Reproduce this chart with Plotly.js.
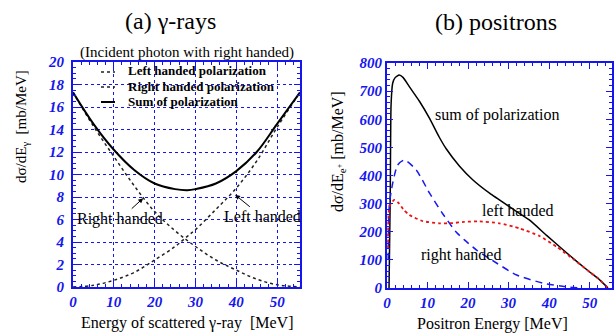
<!DOCTYPE html>
<html><head><meta charset="utf-8">
<script src="https://cdn.plot.ly/plotly-3.0.1.min.js"></script>
<style>html,body{margin:0;padding:0;background:#fff}</style>
</head><body><div id="chart" style="width:615px;height:335px"></div>
<script>
// (a) gamma-rays
const gammaE = [0, 5, 10, 15, 20, 25, 28, 30, 35, 40, 45, 50, 55.6];
const gammaLeft = [0, 0.15, 0.6, 1.3, 2.4, 3.6, 4.5, 5.1, 6.9, 8.8, 11.2, 14.2, 17.3];
const gammaRightE = [0, 5, 10, 15, 20, 25, 30, 35, 40, 45, 50, 55.6];
const gammaRight = [17.3, 14.3, 11.6, 9.0, 6.7, 5.0, 3.6, 2.4, 1.5, 0.7, 0.2, 0];
const gammaSumE = [0, 5, 10, 15, 20, 25, 28, 30, 35, 40, 45, 50, 55.6];
const gammaSum = [17.3, 14.5, 12.2, 10.4, 9.2, 8.7, 8.6, 8.7, 9.2, 10.3, 12.0, 14.5, 17.3];
const legendNames = ["Left handed polarization", "Right handed polarization", "Sum of polarization"];

// (b) positrons
const posSumE = [0.5, 0.8, 1.0, 1.4, 2.0, 3.0, 4.0, 5.5, 8, 10.5, 12.9, 14.6, 17.9, 21.2, 25.3, 30.2, 35.1, 39.3, 43.5, 47, 50, 52, 54.5];
const posSum = [0, 330, 650, 728, 748, 757, 748, 716, 664, 603, 536, 495, 433, 384, 337, 289, 242, 188, 135, 92, 57, 35, 0];
const posRightE = [0.3, 0.6, 1.4, 2.6, 4.3, 7.2, 10.5, 13.7, 17, 19.1, 22.1, 27.1, 32, 38.6, 45, 48];
const posRight = [100, 300, 372, 437, 455, 420, 337, 265, 200, 171, 135, 88, 46, 17, 3, 0];
const posLeftE = [0.3, 0.6, 1.8, 3, 4, 5.5, 8.8, 12.9, 16.2, 19, 22.8, 27.7, 32.7, 37.6, 42, 46, 50, 52, 54.5];
const posLeft = [140, 289, 313, 300, 280, 260, 238, 230, 231, 235, 237, 230, 212, 185, 145, 102, 57, 35, 0];

const serif = "Liberation Serif";
const blue = "#1515ee";
const tickFont = {family: serif, size: 15, color: blue, weight: "bold", style: "italic"};

const gammaStyles = [
  {color: "#222", width: 1.5, dash: "dot"},
  {color: "#222", width: 1.5, dash: "3px,3px"},
  {color: "#000", width: 2, dash: "solid"}
];

const traces = [
  {x: gammaE, y: gammaLeft, name: legendNames[0], mode: "lines", line: Object.assign({shape: "spline"}, gammaStyles[0]), xaxis: "x", yaxis: "y"},
  {x: gammaRightE, y: gammaRight, name: legendNames[1], mode: "lines", line: Object.assign({shape: "spline"}, gammaStyles[1]), xaxis: "x", yaxis: "y"},
  {x: gammaSumE, y: gammaSum, name: legendNames[2], mode: "lines", line: Object.assign({shape: "spline"}, gammaStyles[2]), xaxis: "x", yaxis: "y"},
  {x: posSumE, y: posSum, mode: "lines", line: {color: "#000", width: 1.5, shape: "spline", smoothing: 0.5}, xaxis: "x2", yaxis: "y2"},
  {x: posRightE, y: posRight, mode: "lines", line: {color: "#1a1aee", width: 1.5, dash: "7px,5px", shape: "spline", smoothing: 0.6}, xaxis: "x2", yaxis: "y2"},
  {x: posLeftE, y: posLeft, mode: "lines", line: {color: "#ee1111", width: 1.8, dash: "dot", shape: "spline", smoothing: 0.6}, xaxis: "x2", yaxis: "y2"}
];

const axBase = {
  showline: true, linecolor: blue, linewidth: 2, mirror: "allticks",
  ticks: "inside", tickcolor: blue, ticklen: 6, tickwidth: 1,
  tickfont: tickFont, zeroline: false
};

// manual legend (row spacing of the original is tighter than Plotly's legend allows)
const legendRowsY = [72, 87, 102];
const legendShapes = legendNames.map((n, i) => ({
  type: "line", xref: "paper", yref: "paper",
  x0: 101/615, x1: 115/615, y0: 1 - legendRowsY[i]/335, y1: 1 - legendRowsY[i]/335,
  line: {color: gammaStyles[i].color, width: gammaStyles[i].width, dash: gammaStyles[i].dash}
}));
const legendTexts = legendNames.map((n, i) => ({
  text: n, xref: "paper", yref: "paper", x: 126/615, y: 1 - (legendRowsY[i] - 1)/335,
  xanchor: "left", yanchor: "middle", showarrow: false,
  font: {family: serif, size: 13, color: "#000", weight: "bold"}
}));

function paperText(text, px, py, size, extra) {
  return Object.assign({text: text, xref: "paper", yref: "paper", x: px/615, y: 1 - py/335,
    xanchor: "center", yanchor: "middle", showarrow: false,
    font: {family: serif, size: size, color: "#000"}}, extra || {});
}

const layout = {
  width: 615, height: 335,
  margin: {l: 0, r: 0, t: 0, b: 0},
  paper_bgcolor: "#fff", plot_bgcolor: "#fff",
  showlegend: false,
  xaxis: Object.assign({}, axBase, {domain: [73/615, 300/615], range: [0, 55.6], dtick: 10, tick0: 0,
    showgrid: true, gridcolor: blue, griddash: "dot", gridwidth: 1,
    minor: {dtick: 2, ticklen: 3, ticks: "inside", tickcolor: blue},
    anchor: "y"}),
  yaxis: Object.assign({}, axBase, {domain: [48/335, 273/335], range: [0, 20], dtick: 2, tick0: 0,
    showgrid: true, gridcolor: blue, griddash: "dot", gridwidth: 1, ticklabelstandoff: 4,
    minor: {dtick: 0.5, ticklen: 3, ticks: "inside", tickcolor: blue},
    anchor: "x"}),
  xaxis2: Object.assign({}, axBase, {domain: [387/615, 612/615], range: [0, 55.5], dtick: 10, tick0: 0,
    showgrid: false,
    minor: {dtick: 2, ticklen: 3, ticks: "inside", tickcolor: blue},
    anchor: "y2"}),
  yaxis2: Object.assign({}, axBase, {domain: [47/335, 272/335], range: [0, 800], dtick: 100, tick0: 0,
    showgrid: false,
    minor: {dtick: 20, ticklen: 3, ticks: "inside", tickcolor: blue},
    anchor: "x2"}),
  shapes: legendShapes,
  annotations: [
    paperText("(a) γ-rays", 170, 21, 24),
    paperText("(b) positrons", 496, 22, 24),
    paperText("(Incident photon with right handed)", 187, 52, 15),
    paperText("Energy of scattered γ-ray  [MeV]", 187, 323, 16),
    paperText("Positron Energy [MeV]", 492, 324, 16),
    paperText("dσ/dE<sub>γ</sub>  [mb/MeV]", 22, 127, 15, {textangle: -90}),
    paperText("dσ/dE<sub>e<sup>+</sup></sub> [mb/MeV]", 338, 152, 16, {textangle: -90}),
    {text: "Right handed", xref: "x", yref: "y", x: 17.2, y: 7.9, ax: -23, ay: 21, showarrow: true, arrowhead: 2, arrowsize: 1, arrowwidth: 1, arrowcolor: "#000", font: {family: serif, size: 16, color: "#000"}},
    {text: "Left handed", xref: "x", yref: "y", x: 39.7, y: 8.2, ax: 27, ay: 22, showarrow: true, arrowhead: 2, arrowsize: 1, arrowwidth: 1, arrowcolor: "#000", font: {family: serif, size: 16, color: "#000"}},
    paperText("sum of polarization", 497, 115, 16),
    paperText("left handed", 518, 211, 16),
    paperText("right handed", 461, 255, 16)
  ].concat(legendTexts)
};

Plotly.newPlot("chart", traces, layout, {staticPlot: true, displayModeBar: false});
</script></body></html>
